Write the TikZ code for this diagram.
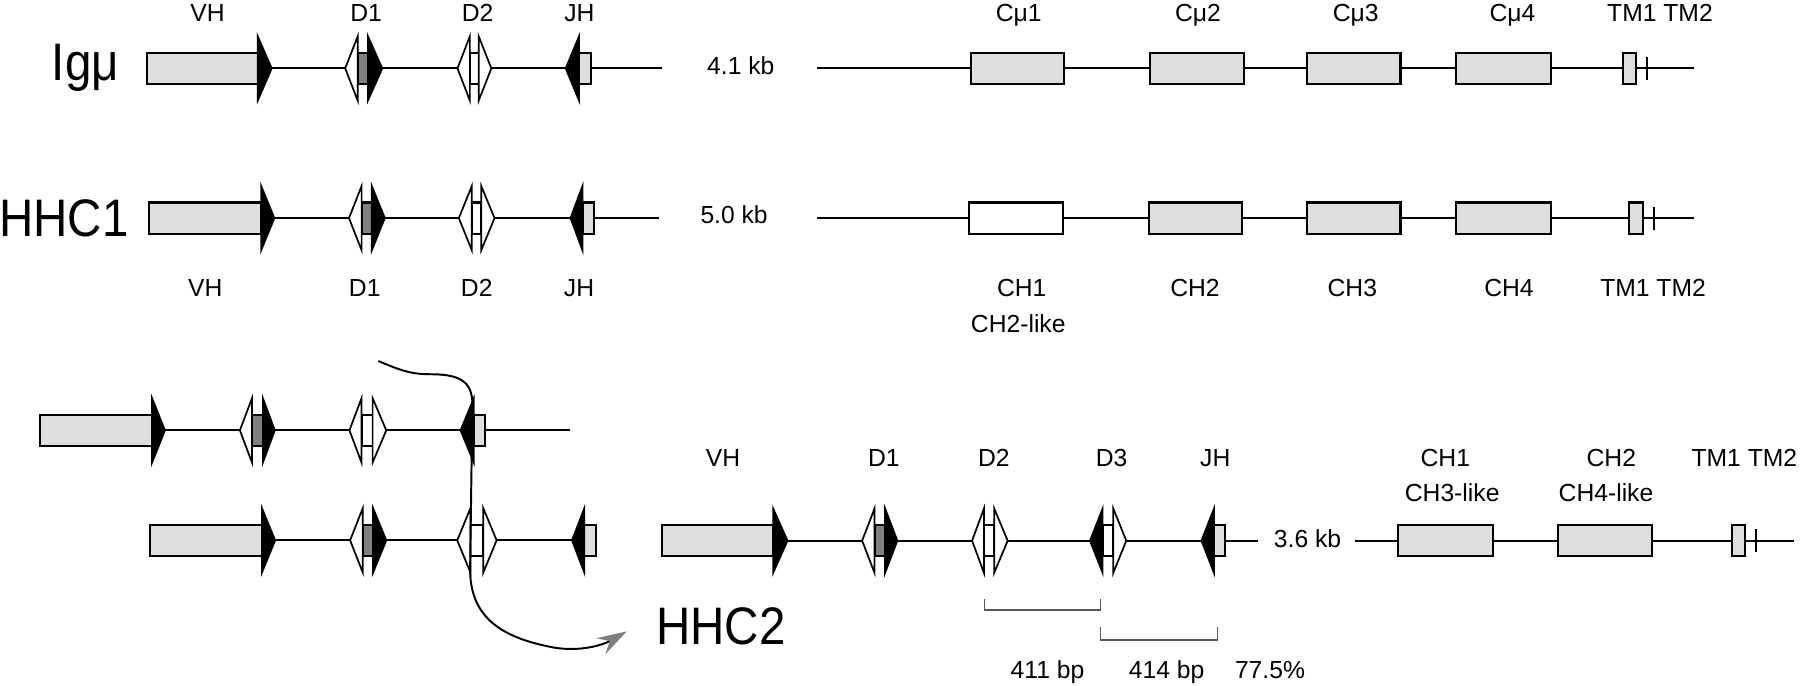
\documentclass[tikz,border=0pt]{standalone}
\usepackage{fontspec}
\setmainfont{Liberation Sans}
\newfontfamily\bigfont[FakeStretch=0.9]{Liberation Sans}
\usetikzlibrary{arrows.meta}
\definecolor{lgray}{HTML}{DEDEDE}
\definecolor{dgray}{HTML}{808080}
\definecolor{arrgray}{HTML}{7F7F7F}
\definecolor{brkgray}{HTML}{5A5A5A}
\tikzset{
  bb/.style={line width=1.7pt, black},
  boxst/.style={line width=1.8pt, draw=black},
  trist/.style={line width=1.5pt, draw=black, line join=miter},
  ticks/.style={line width=1.5pt, black},
  brk/.style={line width=1pt, brkgray},
  lab/.style={font={\fontsize{21.5}{24}\selectfont}, inner sep=0pt, anchor=base},
  big/.style={font={\bigfont\fontsize{46}{50}\selectfont}, inner sep=0pt, anchor=base west},
}
\newcommand\gLine[3]{\draw[bb] ({#1},{#3}) -- ({#2},{#3});}
\newcommand\gBox[4]{\draw[boxst, fill=#4] ({#1},{#3-13.6}) rectangle ({#2},{#3+13.6});}
\newcommand\gTri[4]{\filldraw[trist, fill=#4] ({#1},{#3-28}) -- ({#2},{#3}) -- ({#1},{#3+28}) -- cycle;}
% y, box start, box end, tip
\newcommand\gVH[4]{\gBox{#2}{#3}{#1}{lgray}\gTri{#3}{#4}{#1}{black}}
% y, tip, base, box end
\newcommand\gJH[4]{\gBox{#3}{#4}{#1}{lgray}\gTri{#3}{#2}{#1}{black}}
% y, left tip, base1, base2, right tip
\newcommand\gDa[5]{\gBox{#3}{#4}{#1}{dgray}\gTri{#3}{#2}{#1}{white}\gTri{#4}{#5}{#1}{black}}
\newcommand\gDb[5]{\gBox{#3}{#4}{#1}{white}\gTri{#3}{#2}{#1}{white}\gTri{#4}{#5}{#1}{white}}
\newcommand\gDc[5]{\gBox{#3}{#4}{#1}{white}\gTri{#3}{#2}{#1}{black}\gTri{#4}{#5}{#1}{white}}
% y, box start, box end, tick x
\newcommand\gTM[4]{\gBox{#2}{#3}{#1}{lgray}\draw[ticks] ({#4},{#1-10}) -- ({#4},{#1+10});}
\begin{document}
\begin{tikzpicture}[x=1pt,y=-1pt]
\useasboundingbox (0,0) rectangle (1568,597);

% ---------- Row A : Igmu ----------
\gLine{236.7}{577}{59.6}
\gVH{59.6}{128}{224.5}{236.7}
\gDa{59.6}{300.7}{311.6}{320.5}{333}
\gDb{59.6}{398.5}{409.3}{417}{428}
\gJH{59.6}{492.8}{504.4}{514.5}
\gLine{712}{1476}{59.6}
\gBox{845.5}{927}{59.6}{lgray}
\gBox{1001.8}{1083.5}{59.6}{lgray}
\gBox{1138.4}{1220}{59.6}{lgray}
\gBox{1268.7}{1350.9}{59.6}{lgray}
\gTM{59.6}{1413.8}{1425}{1434.7}

\node[big] (igm) at (45,69.7) {Igμ};
\node[lab] (kbA) at (645.3,65.3) {4.1 kb};
\node[lab] (aVH) at (180.8,19) {VH};
\node[lab] (aD1) at (318.9,19) {D1};
\node[lab] (aD2) at (416,19) {D2};
\node[lab] (aJH) at (504.7,19) {JH};
\node[lab] (aC1) at (887.4,19) {Cμ1};
\node[lab] (aC2) at (1043.6,19) {Cμ2};
\node[lab] (aC3) at (1181,19) {Cμ3};
\node[lab] (aC4) at (1317.5,19) {Cμ4};
\node[lab] (aTM) at (1446,19) {TM1 TM2};

% ---------- Row B : HHC1 ----------
\gLine{239}{574}{190}
\gVH{190}{130}{227.5}{239}
\gDa{190}{304}{315}{323.9}{335.2}
\gDb{190}{399.7}{411}{419.2}{430.8}
\gJH{190}{497}{507.4}{517.6}
\gLine{712}{1476}{190}
\gBox{844.3}{926}{190}{white}
\gBox{1000.7}{1082.3}{190}{lgray}
\gBox{1138.4}{1220}{190}{lgray}
\gBox{1268.7}{1350.9}{190}{lgray}
\gTM{190}{1419.4}{1431.4}{1440.5}

\node[big] (hhc1) at (-1,206.2) {HHC1};
\node[lab] (kbB) at (639.5,195) {5.0 kb};
\node[lab] (bVH) at (178.8,258.4) {VH};
\node[lab] (bD1) at (317.7,258.4) {D1};
\node[lab] (bD2) at (415.3,258.4) {D2};
\node[lab] (bJH) at (504.4,258.4) {JH};
\node[lab] (bC1) at (890,258.4) {CH1};
\node[lab] (bC1l) at (887,290) {CH2-like};
\node[lab] (bC2) at (1041,258.4) {CH2};
\node[lab] (bC3) at (1178,258.4) {CH3};
\node[lab] (bC4) at (1314.5,258.4) {CH4};
\node[lab] (bTM) at (1440,258.4) {TM1 TM2};

% ---------- Row C : recombination ----------
\gLine{143.7}{496.9}{374.9}
\gVH{374.9}{35}{132.5}{143.7}
\gDa{374.9}{209}{219.5}{229}{239.4}
\gDb{374.9}{304.4}{314.9}{324.6}{336.5}
\gJH{374.9}{401.2}{412.7}{422.8}

\gLine{239.7}{498.3}{470.7}
\gVH{470.7}{131}{228.2}{239.7}
\gDa{470.7}{305}{316}{325}{336.5}
\gDb{470.7}{398.3}{409.8}{421}{432.6}
\gJH{470.7}{498.3}{509}{518.8}

\coordinate (cs) at (329.5,314.5);
\coordinate (ce) at (546,550);
\draw[line width=1.7pt, -{Stealth[length=26pt, width=16pt, inset=9pt, color=arrgray]}]
  (cs) .. controls (350,323) and (358,326) .. (375,326)
       .. controls (400,326) and (411.5,332) .. (411.5,352)
       -- (409.5,497)
       .. controls (410,540) and (440,556) .. (482,564)
       .. controls (505,568) and (525,562) .. (ce);

% ---------- Row D : HHC2 ----------
\gLine{686}{1095.5}{471}
\gVH{471}{577}{673.5}{686}
\gDa{471}{751}{761.8}{771}{781.7}
\gDb{471}{846.8}{857.1}{866.1}{877.8}
\gDc{471}{949.5}{960.5}{969.8}{981.1}
\gJH{471}{1046.6}{1057.5}{1067.2}
\gLine{1180}{1562.5}{471}
\gBox{1218}{1300.4}{471}{lgray}
\gBox{1357.5}{1439.4}{471}{lgray}
\gTM{471}{1509}{1520.3}{1529.8}

\node[big] (hhc2) at (571.5,561) {HHC2};
\node[lab] (kbD) at (1139,477) {3.6 kb};
\node[lab] (dVH) at (629.8,406.5) {VH};
\node[lab] (dD1) at (770,406.5) {D1};
\node[lab] (dD2) at (865.8,406.5) {D2};
\node[lab] (dD3) at (968.4,406.5) {D3};
\node[lab] (dJH) at (1058.6,406.5) {JH};
\node[lab] (dC1) at (1259,406.5) {CH1};
\node[lab] (dC1l) at (1265,437) {CH3-like};
\node[lab] (dC2) at (1403.6,406.5) {CH2};
\node[lab] (dC2l) at (1399,437) {CH4-like};
\node[lab] (dTM) at (1519.5,406.5) {TM1 TM2};

% brackets
\draw[brk] (857.8,521.8) -- (857.8,531.4) -- (959,531.4) -- (959,521.8);
\draw[brk] (958.4,546.5) -- (958.4,557.5) -- (1060.4,557.5) -- (1060.4,546.5);
\node[lab] (bp1) at (912.5,590.9) {411 bp};
\node[lab] (bp2) at (1016.3,590.9) {414 bp};
\node[lab] (pct) at (1106.3,590.9) {77.5\%};
\end{tikzpicture}
\end{document}
